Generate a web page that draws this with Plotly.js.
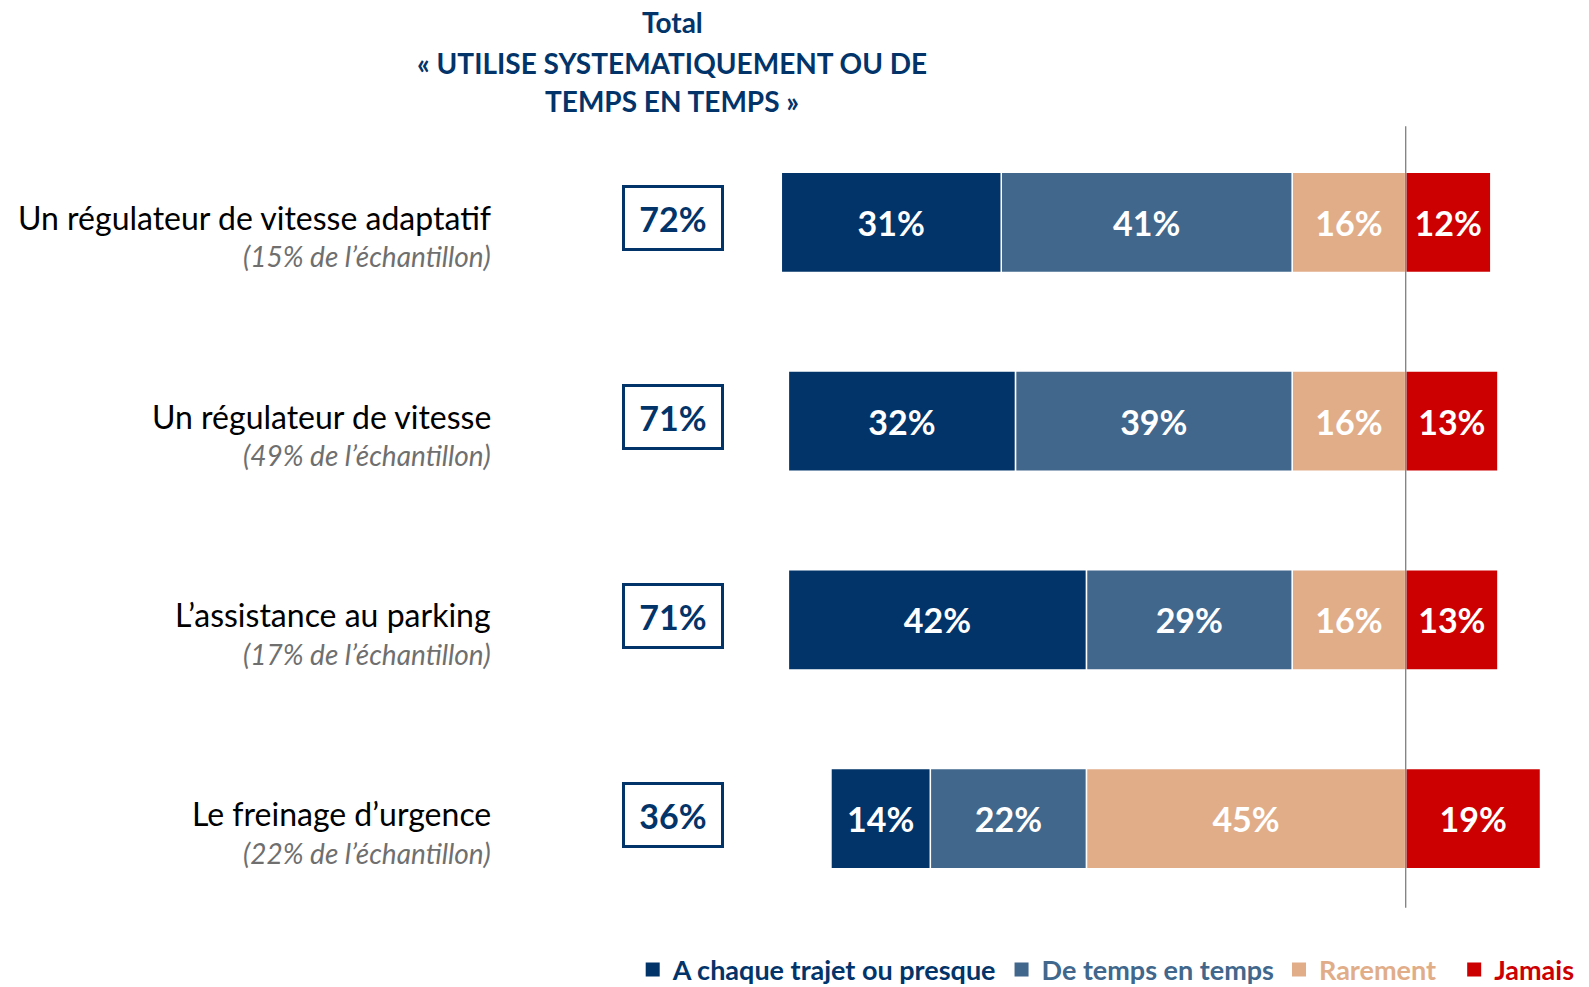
<!DOCTYPE html>
<html>
<head>
<meta charset="utf-8">
<script src="https://cdn.plot.ly/plotly-3.0.1.min.js"></script>
<style>html,body{margin:0;padding:0;background:#fff;}#chart{width:1589px;height:987px;}</style>
</head>
<body>
<div id="chart"></div>
<script>
const categories = ["Un régulateur de vitesse adaptatif", "Un régulateur de vitesse", "L’assistance au parking", "Le freinage d’urgence"];
const sampleNotes = ["(15% de l’échantillon)", "(49% de l’échantillon)", "(17% de l’échantillon)", "(22% de l’échantillon)"];
const totals = [72, 71, 71, 36];
const chaque = [31, 32, 42, 14];
const temps = [41, 39, 29, 22];
const rarement = [16, 16, 16, 45];
const jamais = [12, 13, 13, 19];
const seriesNames = ["A chaque trajet ou presque", "De temps en temps", "Rarement", "Jamais"];
const titleLines = ["Total", "« UTILISE SYSTEMATIQUEMENT OU DE", "TEMPS EN TEMPS »"];

const C_NAVY = "#02346A", C_BLUE = "#41678C", C_PEACH = "#E1AD89", C_RED = "#CC0000";
const FONT = "Lato, 'Open Sans', sans-serif";

function mk(vals, sign, color) {
  return {
    type: "bar", orientation: "h",
    y: categories, x: vals.map(v => sign * v),
    showlegend: false,
    marker: {color: color, line: {color: "#FFFFFF", width: 1.5}},
    text: vals.map(v => v + "%"),
    textposition: "inside", insidetextanchor: "middle", textangle: 0,
    textfont: {family: FONT, size: 34, color: "#FFFFFF", weight: "bold"},
    constraintext: "none",
    hoverinfo: "skip"
  };
}
function legendItem(name, color, rank, pad) {
  return {
    type: "scatter", mode: "markers", x: [null], y: [null],
    name: '<span style="color:' + color + '">' + name + pad + '</span>',
    legendrank: rank,
    marker: {symbol: "square", size: 14, color: color},
    hoverinfo: "skip"
  };
}

const data = [
  mk(rarement, -1, C_PEACH),
  mk(temps, -1, C_BLUE),
  mk(chaque, -1, C_NAVY),
  mk(jamais, 1, C_RED),
  legendItem(seriesNames[0], C_NAVY, 1, ""),
  legendItem(seriesNames[1], C_BLUE, 2, ""),
  legendItem(seriesNames[2], C_PEACH, 3, "&nbsp;&nbsp;"),
  legendItem(seriesNames[3], C_RED, 4, "")
];

const annotations = [];
const titleY = [1.1267, 1.0757, 1.0273];
titleLines.forEach((t, i) => annotations.push({
  xref: "paper", yref: "paper", x: -0.1078, y: titleY[i], xanchor: "center", yanchor: "middle",
  text: t, showarrow: false, font: {family: FONT, size: 28, color: C_NAVY, weight: "bold"}
}));
categories.forEach((c, i) => {
  annotations.push({xref: "paper", yref: "y", x: -0.3266, y: c, xanchor: "right", yanchor: "middle", yshift: 5,
    text: c, showarrow: false, font: {family: FONT, size: 32, color: "#000000"}});
  annotations.push({xref: "paper", yref: "y", x: -0.3266, y: c, xanchor: "right", yanchor: "middle", yshift: -34,
    text: "<i>" + sampleNotes[i] + "</i>", showarrow: false, font: {family: FONT, size: 28, color: "#6F6F6F"}});
  annotations.push({xref: "paper", yref: "y", x: -0.1066, y: c, xanchor: "center", yanchor: "middle", yshift: 4,
    text: totals[i] + "%", showarrow: false, width: 96, height: 60, borderwidth: 3, borderpad: 0,
    bordercolor: C_NAVY, bgcolor: "#FFFFFF",
    font: {family: FONT, size: 34, color: C_NAVY, weight: "bold"}});
});

const layout = {
  width: 1589, height: 987,
  margin: {l: 760, r: 13, t: 123, b: 69, pad: 0, autoexpand: false},
  paper_bgcolor: "#FFFFFF", plot_bgcolor: "#FFFFFF",
  barmode: "relative", bargap: 0.495,
  xaxis: {range: [-91, 24], visible: false, showgrid: false, zeroline: false, fixedrange: true},
  yaxis: {type: "category", range: [3.5, -0.5], visible: false, showgrid: false, zeroline: false, fixedrange: true},
  showlegend: true,
  legend: {orientation: "h", x: -0.156, y: -0.0654, xanchor: "left", yanchor: "middle",
    font: {family: FONT, size: 27, weight: "bold"}, traceorder: "normal", itemclick: false, bgcolor: "rgba(0,0,0,0)"},
  shapes: [{type: "line", xref: "x", yref: "paper", x0: 0, x1: 0, y0: 0.013, y1: 0.996, layer: "above",
    line: {color: "#7F7F7F", width: 1.3}}],
  annotations: annotations,
  font: {family: FONT}
};

Plotly.newPlot("chart", data, layout, {displayModeBar: false, staticPlot: true});
</script>
</body>
</html>
